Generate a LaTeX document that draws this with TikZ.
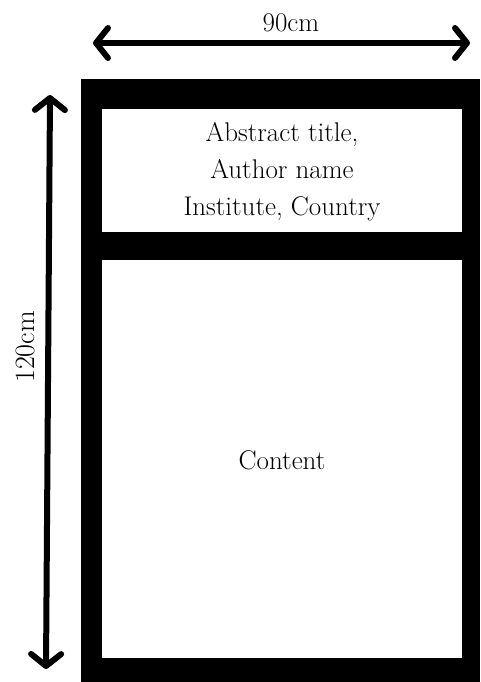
\documentclass[tikz,border=0pt]{standalone}
\usepackage{fontspec}
\usetikzlibrary{arrows.meta}
\begin{document}
\begin{tikzpicture}[x=1pt,y=-1pt,
  panel/.style={fill=white,draw=none,inner sep=0pt,anchor=north west},
  lbl/.style={font=\fontsize{27}{37}\selectfont,align=center,inner sep=0pt},
  dim/.style={line width=6pt,line cap=round,
    {Straight Barb[length=12pt,width=30pt,round]}-{Straight Barb[length=12pt,width=30pt,round]}}]
\useasboundingbox (0,0) rectangle (480,682);
\fill[black] (81,79) rectangle (480,682);
\node[panel,minimum width=360pt,minimum height=123pt] (title) at (102,109) {};
\node[panel,minimum width=360pt,minimum height=398pt] (content) at (102,260) {};
\node[lbl] (tt) at (282,172) {Abstract title,\\ Author name\\ Institute, Country};
\node[lbl] (ct) at (282,460) {Content};
\coordinate (hl) at (93,43);
\coordinate (hr) at (470,43);
\draw[dim] (hl) -- (hr);
\node[lbl] (hw) at (291,23) {90cm};
\coordinate (vt) at (50,95);
\coordinate (vb) at (46,669);
\draw[dim] (vt) -- (vb);
\node[lbl,font=\fontsize{28}{37}\selectfont,rotate=90] (vh) at (25,347) {120cm};
\end{tikzpicture}
\end{document}
